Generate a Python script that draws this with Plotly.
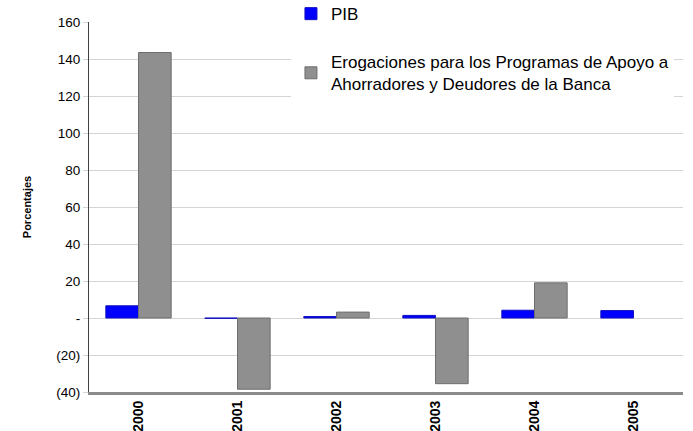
import plotly.graph_objects as go

# Annual data, percent
years = ["2000", "2001", "2002", "2003", "2004", "2005"]
pib = [6.6, -0.2, 0.8, 1.4, 4.2, 4.0]
erogaciones = [143.5, -38.5, 3.2, -35.5, 19.0, None]

# Y-axis ticks shown in accounting style
y_tickvals = [-40, -20, 0, 20, 40, 60, 80, 100, 120, 140, 160]
y_ticktext = ["(40)", "(20)", "-", "20", "40", "60", "80", "100", "120", "140", "160"]

fig = go.Figure()
fig.add_trace(go.Bar(
    x=years, y=pib, name="PIB", legendgroup="a",
    marker=dict(color="#0000FF", line=dict(color="#1010c0", width=1)),
))
fig.add_trace(go.Bar(
    x=years, y=erogaciones, legendgroup="b",
    name="Erogaciones para los Programas de Apoyo a<br>Ahorradores y Deudores de la Banca",
    marker=dict(color="#8f8f8f", line=dict(color="#6e6e6e", width=1)),
))

fig.update_layout(
    width=693, height=431,
    margin=dict(l=89, r=10, t=22, b=39, autoexpand=False),
    paper_bgcolor="white", plot_bgcolor="white",
    barmode="group", bargap=0.34, bargroupgap=0.0,
    font=dict(family="Arial, Liberation Sans, sans-serif", size=13.5, color="#000"),
    showlegend=True,
    legend=dict(
        x=0.34, y=1.07, xanchor="left", yanchor="top",
        bgcolor="white", borderwidth=0,
        font=dict(size=17, color="#000"),
        traceorder="grouped", tracegroupgap=23,
        itemwidth=30,
    ),
    xaxis=dict(
        type="category", tickangle=-90,
        tickfont=dict(size=14, family="Arial, Liberation Sans, sans-serif", weight="bold"),
        showline=True, linecolor="#8a8a8a", linewidth=3,
        showgrid=False, ticks="", ticklen=0,
    ),
    yaxis=dict(
        range=[-40, 160], tickvals=y_tickvals, ticktext=y_ticktext,
        showgrid=True, gridcolor="#d4d4d4", gridwidth=1,
        zeroline=True, zerolinecolor="#d4d4d4", zerolinewidth=1,
        showline=True, linecolor="#404040", linewidth=1,
        ticks="outside", ticklen=5, tickcolor="#d4d4d4",
        title=dict(text="<b>Porcentajes</b>", font=dict(size=11), standoff=22),
    ),
)

fig.write_html("out.html")
